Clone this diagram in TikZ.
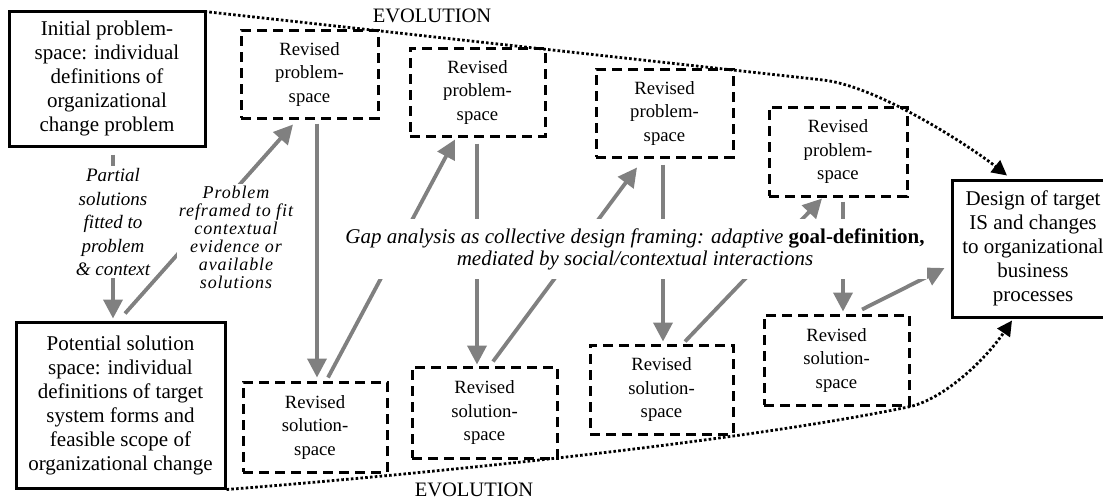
\documentclass[tikz,border=0pt]{standalone}
\usepackage{fontspec}
\setmainfont{Liberation Serif}
\usetikzlibrary{arrows.meta,calc}
\definecolor{arrowgray}{RGB}{128,128,128}
\begin{document}
\begin{tikzpicture}[x=1pt,y=-1pt,
  mainbox/.style={draw, line width=3pt, align=center, inner sep=0pt, font=\fontsize{21}{24}\selectfont},
  revbox/.style={draw, line width=3pt, dash pattern=on 10pt off 6pt, align=center, inner sep=0pt, font=\fontsize{18.7}{23.5}\selectfont},
  grayarrow/.style={draw=arrowgray, line width=3.8pt, -{Triangle[length=19pt,width=19pt]}},
  evoarrow/.style={draw, line width=2.8pt, dash pattern=on 2.6pt off 2.2pt, -{Triangle[length=15pt,width=15pt]}},
  lbl/.style={fill=white, align=center, inner xsep=2pt}
]
\useasboundingbox (0,0) rectangle (1103,499);

% main boxes
\node[mainbox, minimum width=196pt, minimum height=135pt] (A) at (107,78.5)
  {Initial problem-\\space: individual\\definitions of\\organizational\\change problem};
\node[mainbox, minimum width=209pt, minimum height=166pt] (B) at (120.5,405)
  {Potential solution\\space: individual\\definitions of target\\system forms and\\feasible scope of\\organizational change};
\node[mainbox, minimum width=162pt, minimum height=137pt] (T) at (1033,248.5)
  {Design of target\\IS and changes\\to organizational\\business\\processes};

% revised problem spaces
\node[revbox, minimum width=137pt, minimum height=88pt] (P1) at (309.5,74) {Revised\\problem-\\space};
\node[revbox, minimum width=135pt, minimum height=88pt] (P2) at (477.5,92) {Revised\\problem-\\space};
\node[revbox, minimum width=137pt, minimum height=88pt] (P3) at (664.5,113) {Revised\\problem-\\space};
\node[revbox, minimum width=138pt, minimum height=89pt] (P4) at (838,151.5) {Revised\\problem-\\space};

% revised solution spaces
\node[revbox, minimum width=144pt, minimum height=90pt] (S1) at (315,427) {Revised\\solution-\\space};
\node[revbox, minimum width=145pt, minimum height=91pt] (S2) at (484.5,412.5) {Revised\\solution-\\space};
\node[revbox, minimum width=143pt, minimum height=89pt] (S3) at (661.5,389.5) {Revised\\solution-\\space};
\node[revbox, minimum width=145pt, minimum height=90pt] (S4) at (836.5,360) {Revised\\solution-\\space};

% gray arrows
\draw[grayarrow] ([xshift=6pt,yshift=-7pt]A.south) -- ([xshift=-7.5pt,yshift=2pt]B.north);
\draw[grayarrow] ([xshift=4.5pt,yshift=7pt]B.north) -- ([xshift=-16.5pt,yshift=-5pt]P1.south);
\draw[grayarrow] ([xshift=7.5pt,yshift=-4pt]P1.south) -- ([xshift=2pt,yshift=3pt]S1.north);
\draw[grayarrow] ([xshift=13pt,yshift=3pt]S1.north) -- ([xshift=-22.5pt,yshift=-2pt]P2.south);
\draw[grayarrow] ([xshift=-0.5pt,yshift=-6pt]P2.south) -- ([xshift=-7.5pt,yshift=1pt]S2.north);
\draw[grayarrow] ([xshift=8.5pt,yshift=4pt]S2.north) -- ([xshift=-27.5pt,yshift=-9pt]P3.south);
\draw[grayarrow] ([xshift=-1.5pt,yshift=-6pt]P3.south) -- ([xshift=1.5pt,yshift=2pt]S3.north);
\draw[grayarrow] ([xshift=23.5pt,yshift=2pt]S3.north) -- ([xshift=-16pt,yshift=-1pt]P4.south);
\draw[grayarrow] ([xshift=5pt,yshift=-4pt]P4.south) -- ([xshift=6.5pt,yshift=2pt]S4.north);
\draw[grayarrow] ([xshift=25.5pt,yshift=4pt]S4.north) -- ([xshift=-6pt,yshift=-19.5pt]T.west);

% evolution curves
\draw[evoarrow] ([xshift=-2pt,yshift=-2pt]A.north east) -- (823,80)
  .. controls (880,86.5) and (975,150) .. ([xshift=-26pt,yshift=3pt]T.north);
\draw[evoarrow] (B.south east) .. controls (450,472) and (750,440) .. (S4.south east)
  .. controls (945,398) and (985,360) .. ([xshift=-21pt,yshift=-2pt]T.south);

% labels
\node[lbl, inner ysep=2pt, font=\fontsize{19}{23.5}\selectfont\itshape] (lpartial) at (113,222)
  {Partial\\solutions\\fitted to\\problem\\\&\ context};
\node[lbl, inner ysep=2pt, font=\fontsize{18}{18}\selectfont\itshape\addfontfeature{LetterSpace=5}] (lreframe) at (236,237)
  {Problem\\reframed to fit\\contextual\\evidence or\\available\\solutions};
\node[lbl, inner ysep=9pt, font=\fontsize{21}{22}\selectfont\itshape] (lgap) at (635,249)
  {Gap analysis as collective design framing: adaptive \textbf{\upshape goal-definition,}\\mediated by social/contextual interactions};
\node[font=\fontsize{20.5}{24}\selectfont, inner sep=0pt] (evotop) at (432,16) {EVOLUTION};
\node[font=\fontsize{20.5}{24}\selectfont, inner sep=0pt] (evobot) at (474,490) {EVOLUTION};
\end{tikzpicture}
\end{document}
